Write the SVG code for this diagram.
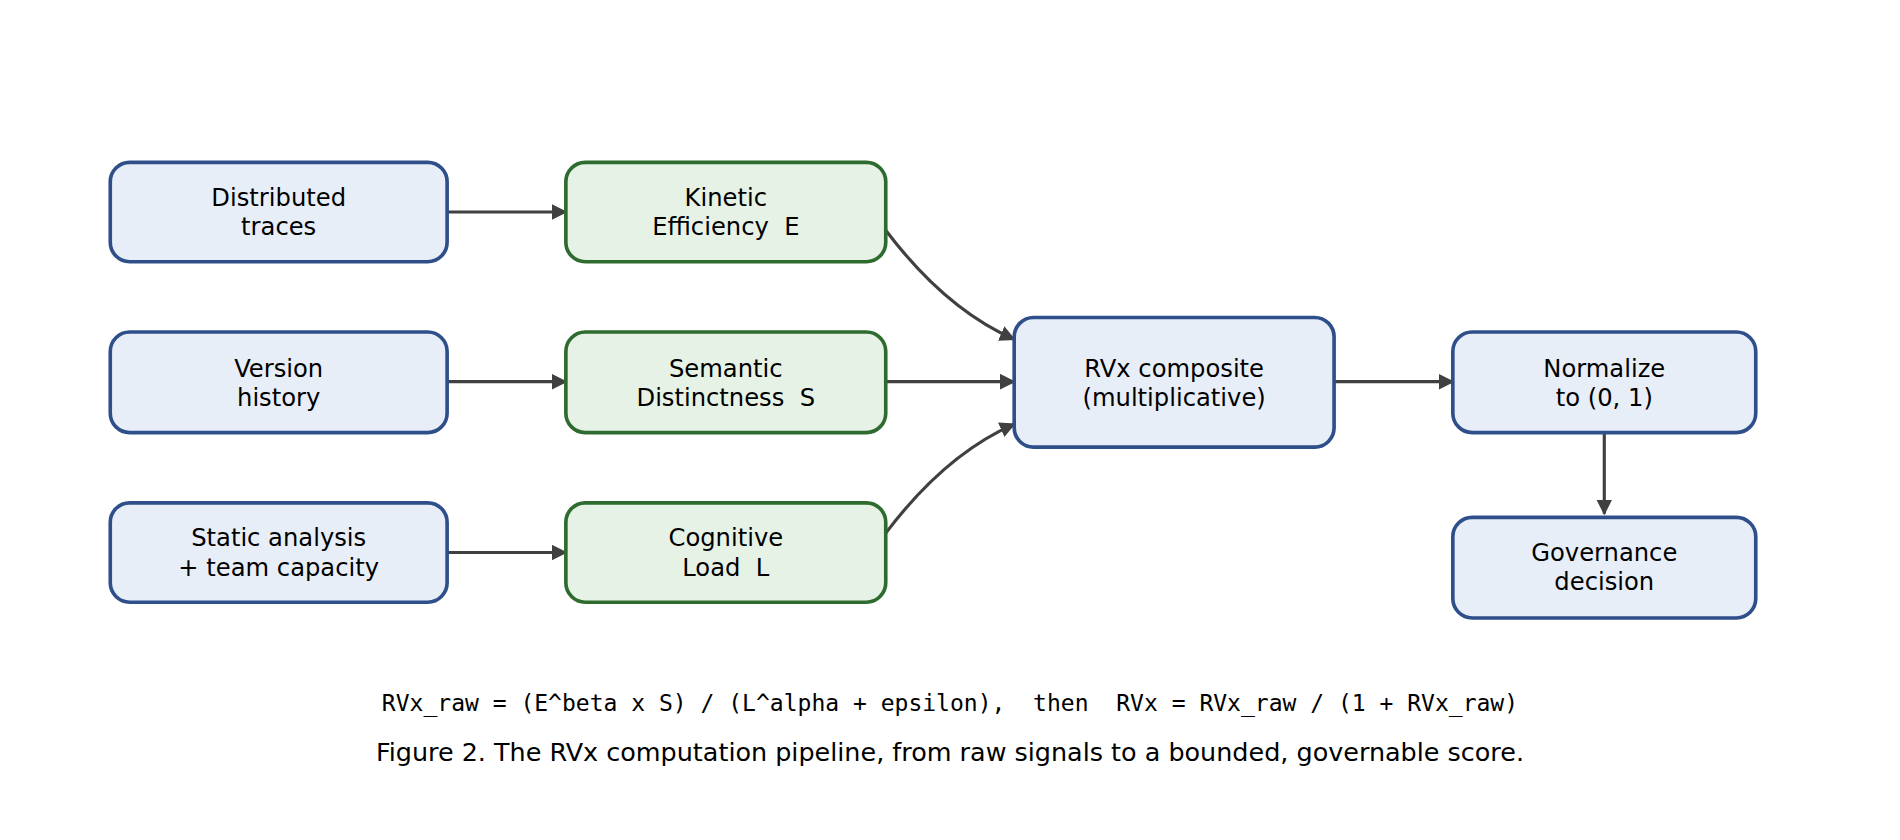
<svg xmlns="http://www.w3.org/2000/svg" width="1900" height="840" viewBox="0 0 1900 840">
<defs>
<style>
.b{fill:#e8eef8;stroke:#2f4f8a;stroke-width:3}
.g{fill:#e6f2e6;stroke:#2e6b2e;stroke-width:3}
.t{font-family:"DejaVu Sans",sans-serif;font-size:20px;fill:#000;text-anchor:middle}
.c{fill:none;stroke:#404040;stroke-width:2.6}
</style>
<marker id="a" viewBox="0 0 10 10" refX="9" refY="5" markerWidth="5" markerHeight="5" orient="auto" markerUnits="strokeWidth"><path d="M0,0L10,5L0,10z" fill="#404040"/></marker>
</defs>
<rect width="1900" height="840" fill="#fff"/>
<g transform="scale(1.2117)">
<g id="connectors">
<path class="c" marker-end="url(#a)" d="M369,175H467"/>
<path class="c" marker-end="url(#a)" d="M369,315H467"/>
<path class="c" marker-end="url(#a)" d="M369,456H467"/>
<path class="c" marker-end="url(#a)" d="M731,190Q780,255 837,280"/>
<path class="c" marker-end="url(#a)" d="M731,315H837"/>
<path class="c" marker-end="url(#a)" d="M731,440Q780,375 837,350"/>
<path class="c" marker-end="url(#a)" d="M1101,315H1199"/>
<path class="c" marker-end="url(#a)" d="M1324,357V424"/>
</g>
<g id="n1"><rect class="b" x="91" y="134" width="278" height="82" rx="16"/><text class="t" x="230" y="170">Distributed</text><text class="t" x="230" y="194">traces</text></g>
<g id="n2"><rect class="b" x="91" y="274" width="278" height="83" rx="16"/><text class="t" x="230" y="311">Version</text><text class="t" x="230" y="335">history</text></g>
<g id="n3"><rect class="b" x="91" y="415" width="278" height="82" rx="16"/><text class="t" x="230" y="451">Static analysis</text><text class="t" x="230" y="475">+ team capacity</text></g>
<g id="n4"><rect class="g" x="467" y="134" width="264" height="82" rx="16"/><text class="t" x="599" y="170">Kinetic</text><text class="t" x="599" y="194" xml:space="preserve">Efficiency  E</text></g>
<g id="n5"><rect class="g" x="467" y="274" width="264" height="83" rx="16"/><text class="t" x="599" y="311">Semantic</text><text class="t" x="599" y="335" xml:space="preserve">Distinctness  S</text></g>
<g id="n6"><rect class="g" x="467" y="415" width="264" height="82" rx="16"/><text class="t" x="599" y="451">Cognitive</text><text class="t" x="599" y="475" xml:space="preserve">Load  L</text></g>
<g id="n7"><rect class="b" x="837" y="262" width="264" height="107" rx="16"/><text class="t" x="969" y="311">RVx composite</text><text class="t" x="969" y="335">(multiplicative)</text></g>
<g id="n8"><rect class="b" x="1199" y="274" width="250" height="83" rx="16"/><text class="t" x="1324" y="311">Normalize</text><text class="t" x="1324" y="335">to (0, 1)</text></g>
<g id="n9"><rect class="b" x="1199" y="427" width="250" height="83" rx="16"/><text class="t" x="1324" y="463">Governance</text><text class="t" x="1324" y="487">decision</text></g>
<text x="784" y="587" text-anchor="middle" font-family="DejaVu Sans Mono,monospace" font-size="19" xml:space="preserve">RVx_raw = (E^beta x S) / (L^alpha + epsilon),  then  RVx = RVx_raw / (1 + RVx_raw)</text>
<text x="784" y="628" text-anchor="middle" font-family="DejaVu Sans,sans-serif" font-size="21">Figure 2. The RVx computation pipeline, from raw signals to a bounded, governable score.</text>
</g>
</svg>
